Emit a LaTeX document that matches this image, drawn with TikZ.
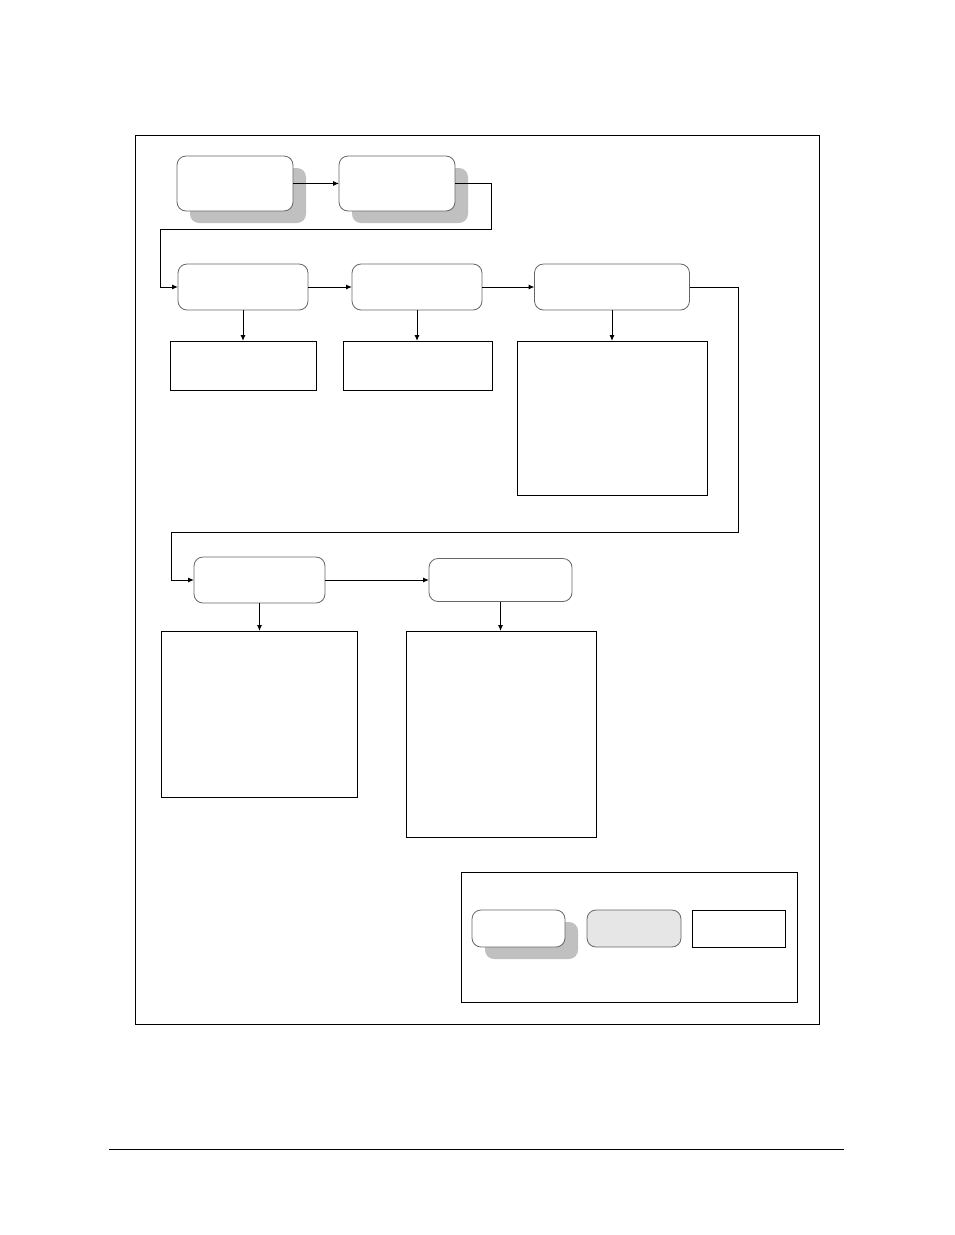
\documentclass[tikz,border=0pt]{standalone}
\usetikzlibrary{arrows.meta,shadows}
\definecolor{rim}{HTML}{666666}
\definecolor{shade}{HTML}{C0C0C0}
\definecolor{pale}{HTML}{E6E6E6}

\tikzset{
    step box/.style={draw=rim, line width=0.8pt, rounded corners=9pt, fill=white,
        inner sep=0pt, outer sep=0pt},
    shaded box/.style={step box, drop shadow={shadow xshift=13pt, shadow yshift=-12pt,
        fill=shade, opacity=1}},
    note box/.style={draw, line width=1pt, inner sep=0pt, outer sep=0pt},
    arr/.style={line width=1pt, -{Latex[length=6pt,width=5pt]}}
}

\begin{document}
\begin{tikzpicture}[x=1pt, y=-1pt]
    \useasboundingbox (0, 0) rectangle (954, 1235);
    % \draw[step=100pt,gray,ultra thin] (0, 0) grid (954, 1235);

    \draw[line width=1pt] (135, 135) rectangle (819, 1024);
    \draw[line width=0.8pt] (109, 1149) -- (844, 1149);

    % first row
    \node[shaded box, minimum width=116pt, minimum height=55pt] (start) at (235, 183.5) {};
    \node[shaded box, minimum width=116pt, minimum height=55pt] (setup) at (397, 183.5) {};

    % second row
    \node[step box, minimum width=130pt, minimum height=46pt] (stepa) at (243, 287) {};
    \node[step box, minimum width=130pt, minimum height=46pt] (stepb) at (417, 287) {};
    \node[step box, minimum width=155pt, minimum height=46pt] (stepc) at (612, 287) {};
    \node[note box, minimum width=146pt, minimum height=49pt] (notea) at (243, 365.5) {};
    \node[note box, minimum width=149pt, minimum height=49pt] (noteb) at (417.5, 365.5) {};
    \node[note box, minimum width=190pt, minimum height=154pt] (notec) at (612, 418) {};

    % third row
    \node[step box, minimum width=131pt, minimum height=46pt] (stepd) at (259.5, 580) {};
    \node[step box, minimum width=143pt, minimum height=43pt] (stepe) at (500.5, 580) {};
    \node[note box, minimum width=196pt, minimum height=166pt] (noted) at (259, 714) {};
    \node[note box, minimum width=190pt, minimum height=206pt] (notee) at (501, 734) {};

    % legend
    \draw[line width=1pt] (461, 872) rectangle (797, 1002);
    \node[shaded box, minimum width=93pt, minimum height=37pt] (keyshadow) at (518.5, 928.5) {};
    \node[step box, fill=pale, minimum width=94pt, minimum height=37pt] (keygray) at (634, 928.5) {};
    \node[note box, minimum width=93pt, minimum height=37pt] (keynote) at (738.5, 928.5) {};

    % connectors
    \coordinate (turnA) at (491, 229);
    \coordinate (turnB) at (160, 229);
    \coordinate (turnC) at (738, 532);
    \coordinate (turnD) at (171, 532);

    \draw[arr] (start.east) -- (setup.west);
    \draw[arr] (setup.east) -| (turnA) -- (turnB) |- (stepa.west);
    \draw[arr] (stepa.east) -- (stepb.west);
    \draw[arr] (stepb.east) -- (stepc.west);
    \draw[arr] (stepc.east) -| (turnC) -- (turnD) |- (stepd.west);
    \draw[arr] (stepd.east) -- (stepd.east -| stepe.west);

    \draw[arr] (stepa.south) -- (stepa.south |- notea.north);
    \draw[arr] (stepb.south) -- (stepb.south |- noteb.north);
    \draw[arr] (stepc.south) -- (stepc.south |- notec.north);
    \draw[arr] (stepd.south) -- (stepd.south |- noted.north);
    \draw[arr] (stepe.south) -- (stepe.south |- notee.north);

\end{tikzpicture}
\end{document}
